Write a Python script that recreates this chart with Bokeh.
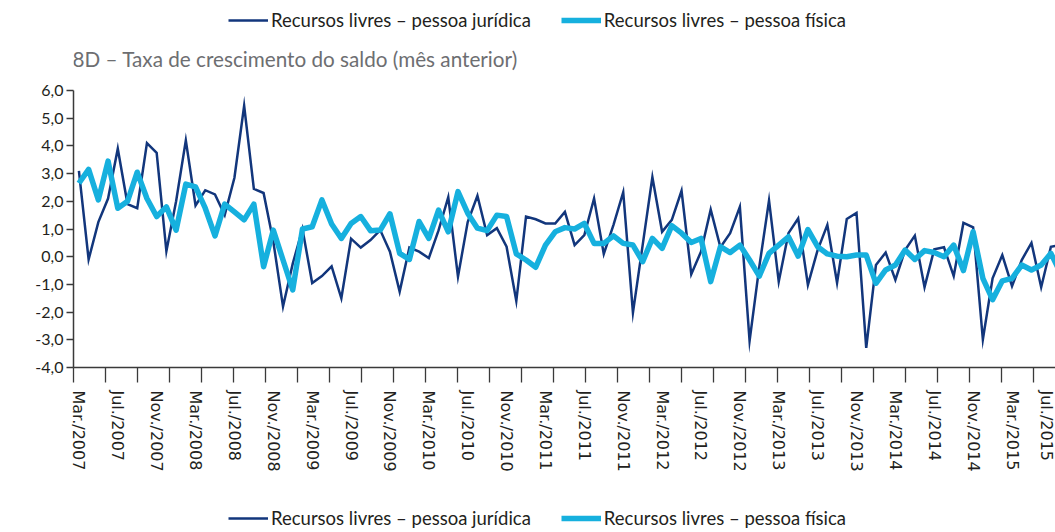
from bokeh.plotting import figure
from bokeh.layouts import column
from bokeh.models import (Range1d, LinearAxis, FixedTicker, Legend, LegendItem,
                          Label, ColumnDataSource)
from bokeh.embed import file_html
from bokeh.resources import INLINE

# ---------------- data ----------------
# monthly growth rate, Mar/2007 onwards (index 0 = Mar/2007)
pj = [3.1, -0.1, 1.25, 2.1, 3.9, 1.9, 1.75, 4.1, 3.75, 0.2,
      2.0, 4.2, 1.85, 2.4, 2.25, 1.5, 2.85, 5.45, 2.45, 2.3,
      0.55, -1.8, -0.25, 1.0, -0.95, -0.7, -0.35, -1.5, 0.65, 0.33,
      0.6, 0.96, 0.18, -1.26, 0.33, 0.18, -0.05, 0.95, 2.15, -0.72,
      1.25, 2.2, 0.78, 1.03, 0.36, -1.6, 1.45, 1.35, 1.2, 1.2,
      1.62, 0.42, 0.78, 2.1, 0.1, 1.15, 2.33, -2.02, 0.42, 2.87,
      0.9, 1.33, 2.38, -0.63, 0.18, 1.7, 0.34, 0.85, 1.8, -3.04,
      -0.36, 2.03, -0.9, 0.85, 1.38, -1.02, 0.24, 1.15, -0.94, 1.36,
      1.58, -3.29, -0.3, 0.15, -0.84, 0.24, 0.76, -1.1, 0.27, 0.34,
      -0.7, 1.22, 1.06, -2.99, -0.78, 0.06, -1.06, -0.12, 0.5, -1.1,
      0.36, 0.42]
pf = [2.65, 3.15, 2.05, 3.45, 1.75, 2.0, 3.05, 2.1, 1.45, 1.8,
      0.96, 2.62, 2.52, 1.75, 0.75, 1.9, 1.62, 1.33, 1.9, -0.36,
      0.96, -0.12, -1.2, 1.0, 1.08, 2.05, 1.18, 0.66, 1.2, 1.45,
      0.94, 0.96, 1.55, 0.12, -0.1, 1.27, 0.66, 1.68, 0.9, 2.35,
      1.57, 1.03, 0.94, 1.5, 1.45, 0.1, -0.12, -0.38, 0.42, 0.9,
      1.05, 1.0, 1.2, 0.48, 0.48, 0.75, 0.48, 0.42, -0.18, 0.66,
      0.3, 1.12, 0.85, 0.51, 0.66, -0.9, 0.36, 0.15, 0.42, -0.12,
      -0.7, 0.12, 0.42, 0.72, 0.02, 0.98, 0.36, 0.1, 0.02, 0.0,
      0.06, 0.06, -0.96, -0.48, -0.3, 0.24, -0.1, 0.22, 0.15, 0.0,
      0.42, -0.5, 0.9, -0.78, -1.55, -0.87, -0.78, -0.3, -0.48, -0.3,
      0.12, -0.6]
month_index = list(range(len(pj)))

x_tick_labels = ["Mar./2007", "Jul./2007", "Nov./2007", "Mar./2008", "Jul./2008",
                 "Nov./2008", "Mar./2009", "Jul./2009", "Nov./2009", "Mar./2010",
                 "Jul./2010", "Nov./2010", "Mar./2011", "Jul./2011", "Nov./2011",
                 "Mar./2012", "Jul./2012", "Nov./2012", "Mar./2013", "Jul./2013",
                 "Nov./2013", "Mar./2014", "Jul./2014", "Nov./2014", "Mar./2015",
                 "Jul./2015"]
x_tick_index = [4 * k for k in range(len(x_tick_labels))]
y_ticks = [-4, -3, -2, -1, 0, 1, 2, 3, 4, 5, 6]
y_tick_labels = ["-4,0", "-3,0", "-2,0", "-1,0", "0,0", "1,0", "2,0", "3,0", "4,0", "5,0", "6,0"]

name_pj = "Recursos livres – pessoa jurídica"
name_pf = "Recursos livres – pessoa física"
title_text = "8D – Taxa de crescimento do saldo (mês anterior)"

# ---------------- styling ----------------
DARK = "#12367c"
LIGHT = "#16b0de"
TXT = "#231f20"
SANS = "Lato"
W = 1055
LEFT = 73
HEAD_H = 80
MAIN_H = 404
FOOT_H = 532 - HEAD_H - MAIN_H

px_per_month = 9.72
x_start = -0.556
x_end = x_start + (W - LEFT) / px_per_month


def blank_fig(h):
    # frame gets aligned with the main chart's frame (x from LEFT to W)
    f = figure(width=W, height=h, output_backend="svg", toolbar_location=None,
               x_range=Range1d(LEFT, W), y_range=Range1d(h, 0),
               x_axis_type=None, y_axis_type=None,
               min_border_left=LEFT, min_border_right=0,
               min_border_top=0, min_border_bottom=0)
    f.outline_line_color = None
    f.grid.visible = False
    return f


def make_legend(fig, vy):
    d1 = fig.line([-60, -50], [-60, -50], line_color=DARK, line_width=2.6)
    d2 = fig.line([-60, -50], [-60, -50], line_color=LIGHT, line_width=5.5)
    lg = Legend(items=[LegendItem(label=name_pj, renderers=[d1]),
                       LegendItem(label=name_pf, renderers=[d2])],
                location=(228 - LEFT, vy), orientation="horizontal",
                glyph_width=40, glyph_height=20, label_height=20,
                label_standoff=3, spacing=30, padding=0, margin=0,
                border_line_color=None, background_fill_alpha=0,
                label_text_font=SANS, label_text_font_size="18.5px",
                label_text_color=TXT)
    fig.add_layout(lg)


# ---------------- header ----------------
head = blank_fig(HEAD_H)
make_legend(head, HEAD_H - 31)
head.add_layout(Label(x=LEFT - 1, y=58, text=title_text, text_baseline="middle",
                      text_align="left", text_font=SANS, text_font_size="20.7px",
                      text_color="#6d6e71"))

# ---------------- main chart ----------------
p = figure(width=W, height=MAIN_H, output_backend="svg", toolbar_location=None,
           x_range=Range1d(x_start, x_end), y_range=Range1d(-4, 6),
           x_axis_type=None, y_axis_type=None,
           min_border_left=LEFT, min_border_right=0, min_border_top=10,
           min_border_bottom=MAIN_H - 10 - 277)
p.outline_line_color = None
p.xgrid.visible = False

yax = LinearAxis(ticker=FixedTicker(ticks=y_ticks),
                 major_label_overrides={t: l for t, l in zip(y_ticks, y_tick_labels)})
yax.axis_line_color = "#3a3a3a"
yax.axis_line_width = 1.5
yax.major_tick_line_color = "#3a3a3a"
yax.major_tick_line_width = 1.5
yax.major_tick_out = 7
yax.major_tick_in = 0
yax.minor_tick_line_color = None
yax.major_label_text_font = SANS
yax.major_label_text_font_size = "16px"
yax.major_label_text_color = TXT
yax.major_label_standoff = 3
p.add_layout(yax, "left")

p.ygrid.ticker = FixedTicker(ticks=y_ticks)
p.ygrid.grid_line_color = "#cdcdcd"
p.ygrid.grid_line_width = 1.5

# tick marks only (Excel tick interval differs from label interval)
tick_pos = [x_start + k * 32 / px_per_month for k in range(32)]
tax = LinearAxis(ticker=FixedTicker(ticks=tick_pos),
                 major_label_overrides={t: "" for t in tick_pos})
tax.axis_line_color = "#3a3a3a"
tax.axis_line_width = 1.5
tax.major_tick_line_color = "#3a3a3a"
tax.major_tick_line_width = 1.3
tax.major_tick_out = 15
tax.major_tick_in = 0
tax.minor_tick_line_color = None
tax.major_label_text_font_size = "0px"
tax.major_label_standoff = 0
p.add_layout(tax, "below")

lax = LinearAxis(ticker=FixedTicker(ticks=x_tick_index),
                 major_label_overrides={t: l for t, l in zip(x_tick_index, x_tick_labels)})
lax.axis_line_color = None
lax.major_tick_line_color = None
lax.minor_tick_line_color = None
lax.major_tick_out = 0
lax.major_tick_in = 0
lax.major_label_orientation = "vertical"
lax.major_label_text_font = "DejaVu Sans"
lax.major_label_text_font_size = "16px"
lax.major_label_text_color = TXT
lax.major_label_standoff = 8
p.add_layout(lax, "below")

src = ColumnDataSource(dict(x=month_index, pj=pj, pf=pf))
p.line("x", "pj", source=src, line_color=DARK, line_width=2.5, line_join="miter")
p.line("x", "pf", source=src, line_color=LIGHT, line_width=5.5, line_join="round")

# ---------------- footer ----------------
foot = blank_fig(FOOT_H)
make_legend(foot, 3)

layout = column(head, p, foot, spacing=0)
open("out.html", "w").write(file_html(layout, INLINE))
